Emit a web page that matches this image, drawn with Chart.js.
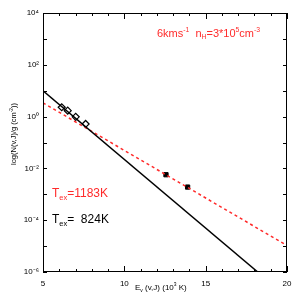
<!DOCTYPE html>
<html>
<head>
<meta charset="utf-8">
<script src="https://cdn.jsdelivr.net/npm/chart.js@4"></script>
<style>
  html, body { margin: 0; padding: 0; background: #fff; }
  canvas { display: block; }
</style>
</head>
<body>
<canvas id="c" width="300" height="300"></canvas>
<script>
// ─── Data ───────────────────────────────────────────────────────────────────
const diamondE = [6.15, 6.52, 7.01, 7.62];
const diamondN = [2.3, 1.7, 0.98, 0.52];
const squareE = [12.56, 13.89];
const squareN = [5.7e-3, 1.9e-3];
const fitColdE = [5, 18.2];
const fitColdN = [10, 1.0e-6];
const fitHotE = [5, 20];
const fitHotN = [3.4, 1.05e-5];
const xTicks = [5, 10, 15, 20];
const yTicks = [1e-6, 1e-4, 1e-2, 1, 1e2, 1e4];
const yTickLabels = ['10⁻⁶', '10⁻⁴', '10⁻²', '10⁰', '10²', '10⁴'];

const FONT = '"Liberation Sans", Arial, sans-serif';
const RED = '#ff2a2a';
const pts = (xs, ys) => xs.map((x, i) => ({ x, y: ys[i] }));

// draws a string made of [text, 'n'|'sup'|'sub'] pieces
function richText(ctx, x, y, parts, size, color) {
  ctx.save();
  ctx.fillStyle = color;
  ctx.textBaseline = 'alphabetic';
  ctx.textAlign = 'left';
  for (const [s, kind] of parts) {
    const sz = kind === 'n' ? size : size * 0.62;
    const dy = kind === 'sup' ? -size * 0.45 : kind === 'sub' ? size * 0.22 : 0;
    ctx.font = sz + 'px ' + FONT;
    ctx.fillText(s, x, y + dy);
    x += ctx.measureText(s).width;
  }
  ctx.restore();
  return x;
}

const decor = {
  id: 'decor',
  afterDraw(chart) {
    const { ctx, chartArea: a, scales } = chart;
    ctx.save();
    ctx.strokeStyle = '#000';
    ctx.lineWidth = 1;
    ctx.strokeRect(a.left + 0.5, a.top + 0.5, a.right - a.left - 1, a.bottom - a.top - 1);
    ctx.beginPath();
    for (let v = 5; v <= 20; v++) {
      const px = Math.round(scales.x.getPixelForValue(v)) + 0.5;
      const len = v % 5 === 0 ? 6 : 3;
      ctx.moveTo(px, a.bottom); ctx.lineTo(px, a.bottom - len);
      ctx.moveTo(px, a.top); ctx.lineTo(px, a.top + len);
    }
    for (let e = -6; e <= 4; e++) {
      const py = Math.round(scales.y.getPixelForValue(Math.pow(10, e))) + 0.5;
      const len = 4;
      ctx.moveTo(a.left, py); ctx.lineTo(a.left + len, py);
      ctx.moveTo(a.right, py); ctx.lineTo(a.right - len, py);
    }
    ctx.stroke();
    ctx.restore();

    // annotations
    richText(ctx, 157, 37, [['6kms', 'n'], ['-1', 'sup'], ['  n', 'n'], ['H', 'sub'],
      ['=3*10', 'n'], ['5', 'sup'], ['cm', 'n'], ['-3', 'sup']], 11, RED);
    richText(ctx, 52, 197, [['T', 'n'], ['ex', 'sub'], ['=1183K', 'n']], 12, RED);
    richText(ctx, 52, 223, [['T', 'n'], ['ex', 'sub'], ['=  824K', 'n']], 12, '#000');

    // axis titles
    richText(ctx, 135, 290, [['E', 'n'], ['v', 'sub'], [' (v,J) (10', 'n'], ['3', 'sup'], [' K)', 'n']], 8, '#000');
    ctx.save();
    ctx.translate(16, 165);
    ctx.rotate(-Math.PI / 2);
    richText(ctx, 0, 0, [['log(N(v,J)/g (cm', 'n'], ['-2', 'sup'], ['))', 'n']], 7.5, '#000');
    ctx.restore();
  }
};

new Chart(document.getElementById('c'), {
  type: 'scatter',
  data: {
    datasets: [
      { data: pts(fitColdE, fitColdN), showLine: true, borderColor: '#000', borderWidth: 1.5, pointRadius: 0 },
      { data: pts(fitHotE, fitHotN), showLine: true, borderColor: RED, borderWidth: 1.5, borderDash: [3, 3], pointRadius: 0 },
      { data: pts(diamondE, diamondN), pointStyle: 'rectRot', pointRadius: 3.5, backgroundColor: '#fff', borderColor: '#000', borderWidth: 1.2 },
      { data: pts(squareE, squareN), pointStyle: 'rect', pointRadius: 3, backgroundColor: '#000', borderColor: '#000', borderWidth: 1 }
    ]
  },
  options: {
    responsive: false,
    devicePixelRatio: 1,
    animation: false,
    layout: { padding: { top: 13, right: 13, left: 0, bottom: 0 } },
    plugins: { legend: { display: false }, tooltip: { enabled: false } },
    scales: {
      x: {
        type: 'linear', min: 5, max: 20,
        grid: { display: false, drawTicks: false },
        border: { display: false },
        afterBuildTicks: s => { s.ticks = xTicks.map(v => ({ value: v })); },
        afterFit: s => { s.height = 28; },
        ticks: { padding: 7, color: '#000', font: { family: FONT, size: 8 }, maxRotation: 0 }
      },
      y: {
        type: 'logarithmic', min: 1e-6, max: 1e4,
        grid: { display: false, drawTicks: false },
        border: { display: false },
        afterBuildTicks: s => { s.ticks = yTicks.map(v => ({ value: v })); },
        afterFit: s => { s.width = 43; },
        ticks: {
          padding: 4, color: '#000', font: { family: FONT, size: 8 },
          callback: v => yTickLabels[yTicks.findIndex(t => Math.abs(Math.log10(t) - Math.log10(v)) < 1e-6)]
        }
      }
    }
  },
  plugins: [decor]
});
</script>
</body>
</html>
